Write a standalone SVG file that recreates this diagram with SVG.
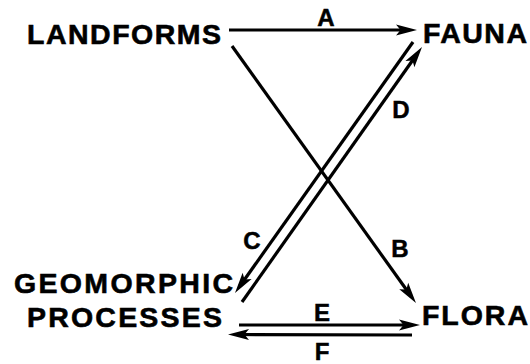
<svg xmlns="http://www.w3.org/2000/svg" width="530" height="364" viewBox="0 0 530 364">
<style>
.node{font-family:"Liberation Sans",Arial,sans-serif;font-weight:bold;font-size:28.5px;fill:#000;stroke:#000;stroke-width:0.6}
.lbl{font-family:"Liberation Sans",Arial,sans-serif;font-weight:bold;font-size:24px;fill:#000;stroke:#000;stroke-width:0.5;text-anchor:middle}
.c{stroke:#000;stroke-width:3.2;fill:none}
</style>
<defs>
<marker id="ah" markerUnits="userSpaceOnUse" viewBox="-14 -7 24 14" markerWidth="24" markerHeight="14" refX="0" refY="0" orient="auto">
<path d="M8,0 L-13,-5.5 L-8.5,0 L-13,5.5 Z" fill="#000"/>
</marker>
</defs>
<rect width="530" height="364" fill="#fff"/>
<g id="landforms"><text class="node" x="27" y="44" textLength="194" lengthAdjust="spacing">LANDFORMS</text></g>
<g id="fauna"><text class="node" x="423" y="43" textLength="104" lengthAdjust="spacing">FAUNA</text></g>
<g id="geomorphic-processes">
<text class="node" x="14" y="293" textLength="219" lengthAdjust="spacing">GEOMORPHIC</text>
<text class="node" x="27" y="327" textLength="195" lengthAdjust="spacing">PROCESSES</text>
</g>
<g id="flora"><text class="node" x="422" y="325" textLength="106" lengthAdjust="spacing">FLORA</text></g>
<g id="connectors">
<line class="c" x1="229" y1="30" x2="409" y2="30" marker-end="url(#ah)"/>
<line class="c" x1="232" y1="46" x2="411.3" y2="296.5" marker-end="url(#ah)"/>
<line class="c" x1="413" y1="42" x2="239.6" y2="286.5" marker-end="url(#ah)"/>
<line class="c" x1="242" y1="302" x2="417.4" y2="53.5" marker-end="url(#ah)"/>
<line class="c" x1="239" y1="325" x2="412" y2="325" marker-end="url(#ah)"/>
<line class="c" x1="412" y1="335" x2="236" y2="334.5" marker-end="url(#ah)"/>
<text class="lbl" x="326" y="26">A</text>
<text class="lbl" x="400" y="257">B</text>
<text class="lbl" x="252" y="249">C</text>
<text class="lbl" x="401" y="118">D</text>
<text class="lbl" x="322" y="321">E</text>
<text class="lbl" x="322" y="360">F</text>
</g>
</svg>
